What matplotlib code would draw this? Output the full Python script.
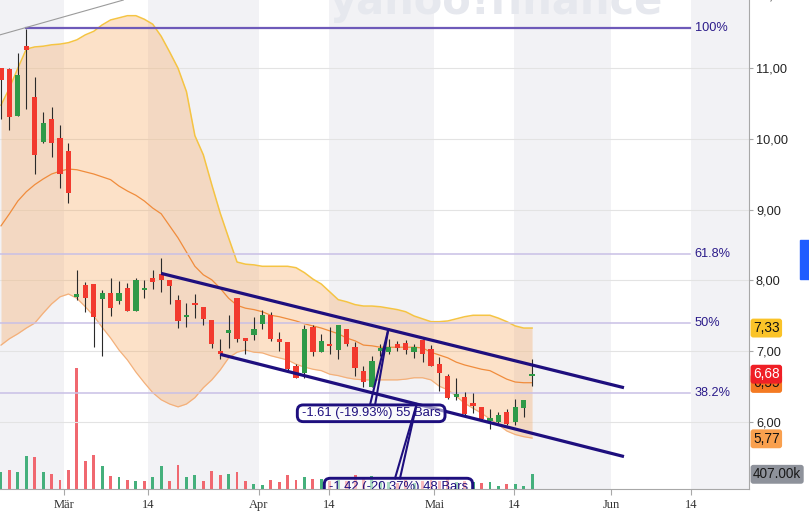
import numpy as np
import matplotlib
matplotlib.use('Agg')
import matplotlib.pyplot as plt
import matplotlib.transforms as mtransforms
from matplotlib.patches import FancyBboxPatch, Rectangle

plt.rcParams['font.family'] = ['Liberation Sans', 'DejaVu Sans']

# daily candles, x = trading day in view
opens = [10.99, 10.98, 10.31, 11.30, 10.58, 9.95, 10.27, 10.01, 9.82, 7.77,
         7.93, 7.95, 7.74, 7.83, 7.71, 7.90, 7.57, 7.86, 8.03, 8.09,
         8.01, 7.73, 7.48, 7.68, 7.62, 7.45, 7.00, 7.26, 7.76, 7.19,
         7.23, 7.39, 7.52, 7.16, 7.14, 6.80, 6.69, 7.35, 6.99, 7.11,
         7.02, 7.31, 7.07, 6.72, 6.50, 7.01, 6.99, 7.10, 7.12, 6.99,
         7.16, 7.03, 6.83, 6.66, 6.36, 6.36, 6.27, 6.22, 6.02, 6.00,
         6.15, 6.00, 6.20, 6.65]
highs = [10.99, 10.99, 11.21, 11.54, 10.86, 10.38, 10.44, 10.19, 9.93, 8.15,
         7.98, 7.95, 7.86, 8.04, 7.99, 7.96, 8.03, 8.01, 8.15, 8.31,
         8.01, 7.79, 7.69, 7.81, 7.62, 7.45, 7.18, 7.51, 7.76, 7.19,
         7.48, 7.58, 7.55, 7.27, 7.14, 6.83, 7.37, 7.37, 7.25, 7.34,
         7.38, 7.31, 7.13, 6.80, 6.94, 7.11, 7.18, 7.15, 7.16, 7.10,
         7.17, 7.09, 6.92, 6.68, 6.63, 6.43, 6.41, 6.22, 6.19, 6.15,
         6.19, 6.33, 6.31, 6.90]
lows = [10.28, 10.12, 10.31, 10.42, 9.50, 9.93, 9.74, 9.30, 9.09, 7.73,
        7.55, 7.06, 6.93, 7.50, 7.67, 7.57, 7.57, 7.75, 7.88, 7.84,
        7.67, 7.33, 7.35, 7.47, 7.37, 7.05, 6.90, 7.05, 7.13, 6.96,
        7.16, 7.32, 7.15, 7.01, 6.72, 6.62, 6.62, 6.94, 6.99, 6.97,
        6.90, 7.08, 6.65, 6.50, 6.50, 6.94, 6.96, 7.00, 6.96, 6.91,
        6.85, 6.79, 6.45, 6.33, 6.31, 6.10, 6.13, 6.03, 5.91, 5.99,
        5.96, 5.96, 6.08, 6.52]
closes = [10.83, 10.30, 10.90, 11.25, 9.77, 10.22, 9.93, 9.50, 9.23, 7.81,
          7.75, 7.49, 7.83, 7.61, 7.83, 7.57, 8.01, 7.90, 7.98, 8.01,
          7.92, 7.43, 7.52, 7.67, 7.46, 7.11, 6.97, 7.30, 7.18, 7.15,
          7.31, 7.51, 7.18, 7.15, 6.76, 6.62, 7.31, 6.99, 7.15, 7.08,
          7.38, 7.10, 6.77, 6.57, 6.87, 7.05, 7.07, 7.05, 7.02, 7.07,
          6.97, 6.80, 6.69, 6.35, 6.40, 6.12, 6.23, 6.05, 6.07, 6.11,
          5.98, 6.22, 6.31, 6.68]
prev_close = 10.60
volumes_k = [470, 520, 480, 905, 880, 460, 415, 260, 535, 3350,
             765, 950, 630, 350, 325, 240, 230, 215, 325, 630,
             215, 655, 325, 395, 215, 505, 380, 425, 480, 215,
             145, 100, 240, 185, 380, 260, 325, 285, 280, 230,
             260, 220, 400, 300, 350, 200, 180, 170, 240, 160,
             210, 260, 230, 300, 190, 220, 200, 165, 180, 95,
             125, 125, 70, 407]

# bollinger bands (20)
bb_upper = [10.47, 10.71, 10.99, 11.26, 11.29, 11.30, 11.32, 11.33, 11.35, 11.39,
            11.46, 11.51, 11.60, 11.67, 11.70, 11.73, 11.73, 11.68, 11.61, 11.44,
            11.22, 10.99, 10.66, 10.04, 9.77, 9.35, 8.95, 8.60, 8.26, 8.23,
            8.22, 8.20, 8.20, 8.20, 8.20, 8.18, 8.11, 8.02, 7.95, 7.84,
            7.73, 7.70, 7.66, 7.64, 7.64, 7.63, 7.61, 7.59, 7.56, 7.50,
            7.46, 7.42, 7.42, 7.43, 7.46, 7.49, 7.51, 7.51, 7.51, 7.47,
            7.42, 7.36, 7.33, 7.33]
bb_mid = [8.77, 8.94, 9.12, 9.25, 9.35, 9.43, 9.50, 9.54, 9.57, 9.56,
          9.53, 9.50, 9.46, 9.42, 9.33, 9.26, 9.20, 9.12, 9.02, 8.94,
          8.77, 8.60, 8.40, 8.20, 8.08, 8.01, 7.89, 7.75, 7.65, 7.61,
          7.59, 7.56, 7.51, 7.49, 7.46, 7.43, 7.39, 7.36, 7.33, 7.29,
          7.25, 7.19, 7.15, 7.09, 7.08, 7.06, 7.06, 7.06, 7.06, 7.06,
          7.05, 6.99, 6.95, 6.91, 6.85, 6.81, 6.78, 6.75, 6.73, 6.67,
          6.61, 6.57, 6.56, 6.56]
bb_lower = [7.09, 7.18, 7.25, 7.33, 7.40, 7.54, 7.67, 7.77, 7.81, 7.75,
            7.63, 7.50, 7.34, 7.19, 7.02, 6.88, 6.71, 6.56, 6.42, 6.32,
            6.26, 6.22, 6.26, 6.35, 6.49, 6.60, 6.74, 6.91, 6.99, 7.02,
            6.99, 6.98, 6.94, 6.91, 6.88, 6.82, 6.78, 6.75, 6.73, 6.68,
            6.66, 6.63, 6.61, 6.60, 6.60, 6.60, 6.60, 6.60, 6.61, 6.63,
            6.63, 6.60, 6.51, 6.46, 6.37, 6.27, 6.20, 6.13, 6.05, 5.97,
            5.88, 5.83, 5.80, 5.78]

tick_pos = [7.47, 17.47, 30.57, 38.94, 51.40, 60.89, 72.40, 81.89]
tick_labels = ['Mär', '14', 'Apr', '14', 'Mai', '14', 'Jun', '14']
stripe_starts = [-1.0, 17.47, 38.94, 60.89, 81.89]
stripe_ends = [7.47, 30.57, 51.40, 72.40, 90.0]
price_ticks = [6, 7, 8, 9, 10, 11]

fib_high = 11.55
fib_low = 3.25
fib_levels = [1.0, 0.618, 0.5, 0.382]
fib_names = ['100%', '61.8%', '50%', '38.2%']

# drawings
channel_top_x = [19, 73.9]
channel_top_y = [8.10, 6.49]
channel_bot_x = [26, 73.9]
channel_bot_y = [6.96, 5.52]
grey_line_x = [-0.12, 14.5]
grey_line_y = [11.46, 11.95]
meas_texts = ['-1.61 (-19.93%) 55 Bars', '-1.42 (-20.37%) 48 Bars']

tag_values = [7.33, 6.55, 6.68, 5.77]
tag_texts = ['7,33', '6,55', '6,68', '5,77']
tag_colors = ['#fac328', '#f47a22', '#ef1f26', '#f9a04e']
tag_text_colors = ['#111111', '#111111', 'white', '#111111']

navy = '#1e0f7e'

o = np.array(opens); c = np.array(closes)
h = np.array(highs); l = np.array(lows)
idx = np.arange(len(c))

fig = plt.figure(figsize=(8.09, 5.21), dpi=100)
ax = fig.add_axes([0, 32 / 521, 749 / 809, 489 / 521])
axv = ax.twinx()
ax.set_zorder(2)
axv.set_zorder(1)
ax.patch.set_visible(False)

ax.set_xlim(-0.12, 88.73)
ax.set_ylim(5.063, 11.951)
axv.set_ylim(0, 13540)
axv.set_axis_off()

# background stripes + volume
for s, e in zip(stripe_starts, stripe_ends):
    axv.axvspan(s, e, color='#f2f2f5', lw=0, zorder=0)
prev = np.concatenate([[prev_close], c[:-1]])
vol_cols = np.where(c >= prev, '#45b07c', '#f06870')
axv.bar(idx, volumes_k, width=0.34, color=vol_cols, zorder=2)

# watermark
ax.text(330 / 749, 1 - 14 / 489, 'yahoo!finance', transform=ax.transAxes,
        fontsize=30, fontweight='bold', color='#e6e8ee', family='DejaVu Sans',
        ha='left', va='baseline', clip_on=False, zorder=0.2)

for p in price_ticks:
    ax.axhline(p, color='#e3e3e3', lw=0.8, zorder=0.5)

# bollinger
ax.fill_between(idx, bb_lower, bb_upper, color='#f7aa64', alpha=0.35, lw=0, zorder=1)
ax.plot(idx, bb_upper, color='#f5c443', lw=1.1, zorder=1.5)
ax.plot(idx, bb_mid, color='#f08c3c', lw=0.9, zorder=1.5)
ax.plot(idx, bb_lower, color='#f3b07a', lw=0.9, zorder=1.5)

# fibonacci
for lev, name in zip(fib_levels, fib_names):
    fp = fib_low + lev * (fib_high - fib_low)
    if lev == 1.0:
        ax.plot([3, 81.73], [fp, fp], color='#6e5ab9', lw=1.6, zorder=3)
    else:
        ax.plot([-1, 81.73], [fp, fp], color='#c9c0e6', lw=1.1, zorder=3)
    ax.text(82.3, fp, name, color='#2b1b8a', fontsize=9.2, va='center', ha='left', zorder=3)

ax.plot(grey_line_x, grey_line_y, color='#9b9b9b', lw=0.8, zorder=3)

# candles
ax.vlines(idx, l, h, color='#2a2a2a', lw=0.8, zorder=4)
body = np.maximum(np.abs(c - o), 0.03)
bottom = (o + c) / 2 - body / 2
cols = np.where(c >= o, '#2f9a48', '#f23a2e')
ax.bar(idx, body, bottom=bottom, width=0.62, color=cols, zorder=5)

# channel
ax.plot(channel_top_x, channel_top_y, color=navy, lw=2.3, zorder=6, solid_capstyle='butt')
ax.plot(channel_bot_x, channel_bot_y, color=navy, lw=2.3, zorder=6, solid_capstyle='butt')

# measurement boxes
boxes = [(35.15, 6.012, 17.52, 0.235), (38.35, 4.979, 17.6, 0.235)]
bases = [([43.77, 44.37], 6.247), ([46.74, 47.33], 5.214)]
apex_x = [45.94, 49.31]
apex_y = [np.interp(apex_x[0], channel_top_x, channel_top_y),
          np.interp(apex_x[1], channel_bot_x, channel_bot_y)]
for (bx, by, bw, bh), txt in zip(boxes, meas_texts):
    ax.add_patch(FancyBboxPatch((bx, by), bw, bh,
                                boxstyle='round,pad=0,rounding_size=0.7',
                                mutation_aspect=0.1187, fc=(1, 1, 1, 0.55),
                                ec=navy, lw=2.1, zorder=7))
    ax.text(bx + bw / 2, by + bh / 2, txt, color=navy, fontsize=9.4,
            ha='center', va='center', zorder=7.5, clip_on=True)
for (bxs, by), axx, ayy in zip(bases, apex_x, apex_y):
    for bxx in bxs:
        ax.plot([bxx, axx], [by, ayy], color=navy, lw=1.5, zorder=8)

# axes styling
for sp in ['left', 'top']:
    ax.spines[sp].set_visible(False)
for sp in ['right', 'bottom']:
    ax.spines[sp].set_color('#a8a8a8')
    ax.spines[sp].set_linewidth(0.8)
ax.yaxis.tick_right()
ax.set_yticks(price_ticks)
ax.set_yticklabels([f'{p:.2f}'.replace('.', ',') for p in price_ticks])
ax.tick_params(axis='y', length=3, color='#a8a8a8', pad=2, labelsize=9.2, labelcolor='#222222')
ax.set_xticks(tick_pos)
ax.set_xticklabels(tick_labels, fontfamily='Liberation Serif')
ax.tick_params(axis='x', length=4, color='#a8a8a8', pad=3, labelsize=9, labelcolor='#333333')

ylab = mtransforms.offset_copy(ax.get_yaxis_transform(), fig=fig, x=6, units='dots')
ax.text(1.0, 12.0, '12,00', transform=ylab, fontsize=9.2, color='#222222',
        va='center', ha='left', clip_on=False)

# price tags
tag_tr = mtransforms.offset_copy(ax.get_yaxis_transform(), fig=fig, x=4, units='dots')
for v, t, fc, tc in zip(tag_values, tag_texts, tag_colors, tag_text_colors):
    ax.text(1.0, v, t, transform=tag_tr, fontsize=9.8, color=tc, ha='left', va='center',
            clip_on=False, zorder=10,
            bbox=dict(boxstyle='round,pad=0.18,rounding_size=0.2', fc=fc, ec='none'))
vol_tr = mtransforms.offset_copy(axv.get_yaxis_transform(), fig=fig, x=4, units='dots')
axv.text(1.0, volumes_k[-1], f'{volumes_k[-1]:.2f}k', transform=vol_tr, fontsize=9.8,
         color='#1a1a1a', ha='left', va='center', clip_on=False, zorder=10,
         bbox=dict(boxstyle='round,pad=0.18,rounding_size=0.2', fc='#8e929b', ec='none'))

fig.patches.append(Rectangle((800 / 809, 1 - 279 / 521), 9 / 809, 39 / 521,
                             transform=fig.transFigure, color='#1f5cff'))

fig.savefig('out.png', dpi=100)
